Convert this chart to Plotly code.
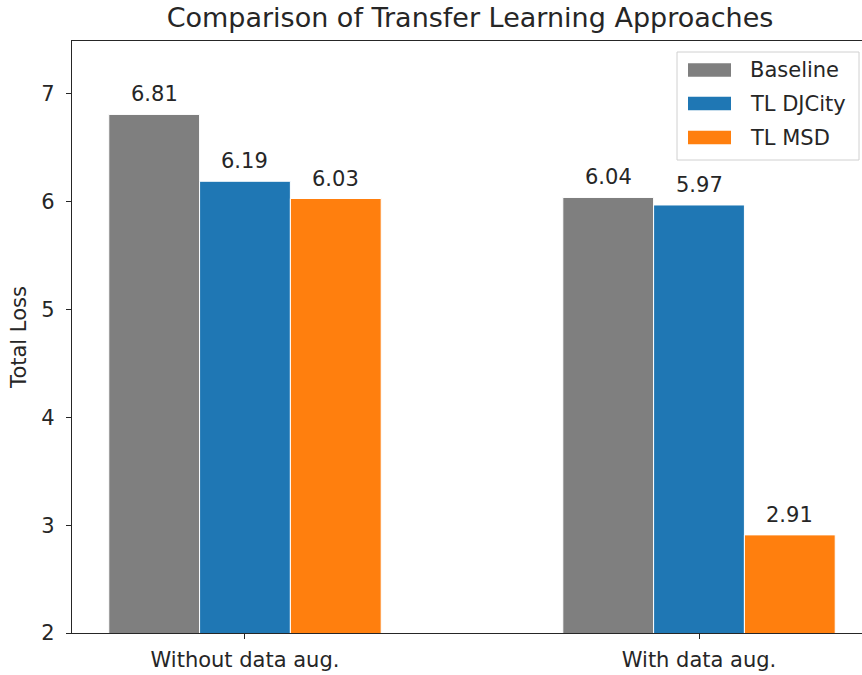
import plotly.graph_objects as go

categories = ["Without data aug.", "With data aug."]
series_names = ["Baseline", "TL DJCity", "TL MSD"]
baseline = [6.81, 6.04]
tl_djcity = [6.19, 5.97]
tl_msd = [6.03, 2.91]
colors = ["#7f7f7f", "#1f77b4", "#ff7f0e"]
title = "Comparison of Transfer Learning Approaches"
y_title = "Total Loss"

W, H = 862, 675
L, R, T, B = 72, 0, 41, 42
pw, ph = W - L - R, H - T - B

FONT = "DejaVu Sans"
TXT = "#262626"
FS = 21
BAR_W = 0.2

fig = go.Figure()
annotations = []
for k, (name, vals, col) in enumerate(zip(series_names, [baseline, tl_djcity, tl_msd], colors)):
    fig.add_trace(go.Bar(
        x=categories, y=vals, name=name,
        marker=dict(color=col, line=dict(color="white", width=1)),
        showlegend=False,
    ))
    for i, v in enumerate(vals):
        annotations.append(dict(xref="x", yref="y", x=i + (k - 1) * BAR_W, y=v,
                                text=f"{v:.2f}", showarrow=False,
                                xanchor="center", yanchor="middle", yshift=20,
                                font=dict(family=FONT, size=FS, color=TXT)))

def px2x(px):
    return (px - L) / pw

def py2y(py):
    return (H - B - py) / ph

shapes = [dict(type="rect", xref="paper", yref="paper",
               x0=px2x(677), x1=px2x(859), y0=py2y(160), y1=py2y(52),
               line=dict(color="#d0d0d0", width=1), fillcolor="rgba(255,255,255,0.8)", layer="above")]
rows = [70, 103.5, 137.5]
for name, col, cy in zip(series_names, colors, rows):
    shapes.append(dict(type="rect", xref="paper", yref="paper",
                       x0=px2x(688), x1=px2x(731), y0=py2y(cy + 6.7), y1=py2y(cy - 6.7),
                       line=dict(width=0), fillcolor=col, layer="above"))
    annotations.append(dict(xref="paper", yref="paper", x=px2x(748), y=py2y(cy),
                            text=name, showarrow=False, xanchor="left", yanchor="middle",
                            font=dict(family=FONT, size=FS, color=TXT)))

fig.update_layout(
    width=W, height=H,
    margin=dict(l=L, r=R, t=T, b=B),
    paper_bgcolor="white", plot_bgcolor="white",
    barmode="group", bargap=0.4, bargroupgap=0,
    title=dict(text=title, x=px2x(470), xref="paper", xanchor="center",
               y=1 - 18 / H, yref="container", yanchor="middle",
               font=dict(family=FONT, size=27, color=TXT)),
    font=dict(family=FONT, size=FS, color=TXT),
    shapes=shapes, annotations=annotations,
    showlegend=False,
)
fig.update_xaxes(range=[-0.381, 1.359], showline=True, linecolor="#262626", linewidth=1.3,
                 mirror=True, ticks="outside", ticklen=5, tickcolor="#262626",
                 ticklabelstandoff=3,
                 showgrid=False, zeroline=False, tickfont=dict(family=FONT, size=FS, color=TXT))
fig.update_yaxes(range=[2, 7.491], showline=True, linecolor="#262626", linewidth=1.3,
                 mirror=False, ticks="outside", ticklen=5, tickcolor="#262626",
                 tickvals=[2, 3, 4, 5, 6, 7], ticklabelstandoff=7,
                 showgrid=False, zeroline=False, tickfont=dict(family=FONT, size=FS, color=TXT),
                 title=dict(text=y_title, font=dict(family=FONT, size=FS, color=TXT), standoff=8))

fig.write_html("out.html", config={"displayModeBar": False},
               post_script="document.body.style.margin='0';document.body.style.overflow='hidden';")
